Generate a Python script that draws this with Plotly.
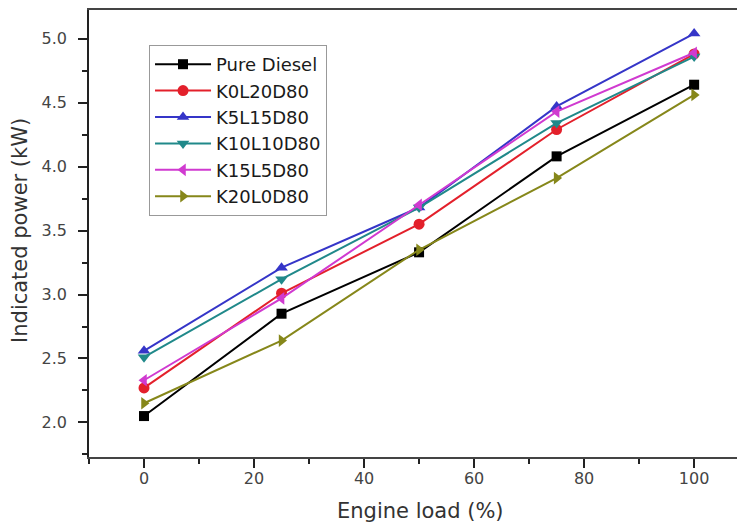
import plotly.graph_objects as go

engine_load = [0, 25, 50, 75, 100]

series_names = ["Pure Diesel", "K0L20D80", "K5L15D80", "K10L10D80", "K15L5D80", "K20L0D80"]
pure_diesel = [2.05, 2.85, 3.33, 4.08, 4.64]
k0l20d80 = [2.27, 3.01, 3.55, 4.29, 4.88]
k5l15d80 = [2.56, 3.21, 3.68, 4.47, 5.04]
k10l10d80 = [2.51, 3.12, 3.68, 4.34, 4.86]
k15l5d80 = [2.33, 2.97, 3.70, 4.43, 4.89]
k20l0d80 = [2.15, 2.64, 3.35, 3.91, 4.56]

x_ticks = [0, 20, 40, 60, 80, 100]
y_ticks = [2.0, 2.5, 3.0, 3.5, 4.0, 4.5, 5.0]

x_title = "Engine load (%)"
y_title = "Indicated power (kW)"

series_values = [pure_diesel, k0l20d80, k5l15d80, k10l10d80, k15l5d80, k20l0d80]
colors = ["#000000", "#e3202b", "#3535c8", "#20898a", "#d03ad0", "#86871a"]
symbols = ["square", "circle", "triangle-up", "triangle-down", "triangle-left", "triangle-right"]

fig = go.Figure()
for name, vals, c, s in zip(series_names, series_values, colors, symbols):
    fig.add_trace(go.Scatter(
        x=engine_load, y=vals, name=name, mode="lines+markers",
        line=dict(color=c, width=2),
        marker=dict(symbol=s, size=10 if s == "square" else 11, color=c),
    ))

font_family = "DejaVu Sans, Liberation Sans, Arial, sans-serif"
fig.update_layout(
    width=745, height=524,
    margin=dict(l=81, r=0, t=2, b=75, pad=0),
    paper_bgcolor="white", plot_bgcolor="white",
    font=dict(family=font_family, color="#333333"),
    showlegend=True,
    legend=dict(
        x=0.0904, y=0.9217, xanchor="left", yanchor="top",
        bordercolor="#999999", borderwidth=1, bgcolor="white",
        font=dict(size=18, color="#1a1a1a", family=font_family),
        tracegroupgap=0, itemwidth=56,
    ),
    xaxis=dict(
        range=[-10, 110.7], automargin=False,
        tickvals=x_ticks, ticktext=[str(v) for v in x_ticks],
        ticks="outside", ticklen=9, tickwidth=1.5, tickcolor="#222",
        minor=dict(ticks="outside", ticklen=5, tickwidth=1.5, dtick=10, tick0=0, tickcolor="#222"),
        showline=True, linecolor="#444", linewidth=1.5, mirror=True,
        showgrid=False, zeroline=False,
        tickfont=dict(size=16, color="#444"),
        ticklabelstandoff=-3,
    ),
    yaxis=dict(
        range=[1.73, 5.224], automargin=False,
        tickvals=y_ticks, ticktext=[f"{v:.1f}" for v in y_ticks],
        ticks="outside", ticklen=9, tickwidth=1.5, tickcolor="#222",
        minor=dict(ticks="outside", ticklen=5, tickwidth=1.5, dtick=0.25, tick0=0, tickcolor="#222"),
        showline=True, linecolor="#222", linewidth=1.5,
        showgrid=False, zeroline=False,
        tickfont=dict(size=16, color="#444"),
        ticklabelstandoff=8,
    ),
    annotations=[
        dict(text=x_title, xref="paper", yref="paper", x=0.4985, y=-0.1208,
             xanchor="center", yanchor="middle", showarrow=False,
             font=dict(size=21, color="#333", family=font_family)),
        dict(text=y_title, xref="paper", yref="paper", x=-0.104, y=0.5078,
             xanchor="center", yanchor="middle", showarrow=False, textangle=-90,
             font=dict(size=21, color="#333", family=font_family)),
    ],
)

fig.write_html("out.html")
